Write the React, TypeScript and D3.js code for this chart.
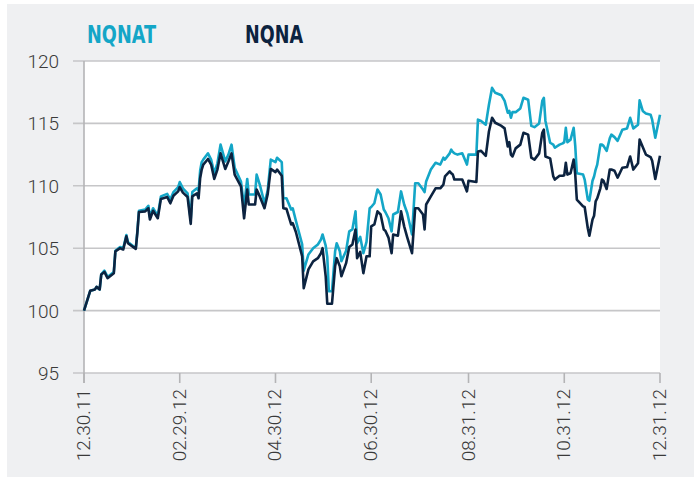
import React from "react";
import * as d3 from "d3";

const dates = [
  "2011-12-30", "2012-01-03", "2012-01-06", "2012-01-07", "2012-01-09", "2012-01-10", "2012-01-12", "2012-01-14",
  "2012-01-18", "2012-01-19", "2012-01-22", "2012-01-24", "2012-01-26", "2012-01-27", "2012-02-01", "2012-02-02",
  "2012-02-03", "2012-02-07", "2012-02-09", "2012-02-10", "2012-02-12", "2012-02-15", "2012-02-17", "2012-02-21",
  "2012-02-23", "2012-02-25", "2012-02-28", "2012-02-29", "2012-03-02", "2012-03-05", "2012-03-07", "2012-03-08",
  "2012-03-11", "2012-03-12", "2012-03-13", "2012-03-14", "2012-03-15", "2012-03-18", "2012-03-20", "2012-03-22",
  "2012-03-24", "2012-03-26", "2012-03-29", "2012-03-31", "2012-04-02", "2012-04-04", "2012-04-08", "2012-04-10",
  "2012-04-12", "2012-04-13", "2012-04-17", "2012-04-18", "2012-04-20", "2012-04-23", "2012-04-25", "2012-04-27",
  "2012-04-30", "2012-05-01", "2012-05-04", "2012-05-05", "2012-05-07", "2012-05-10", "2012-05-11", "2012-05-13",
  "2012-05-17", "2012-05-18", "2012-05-21", "2012-05-24", "2012-05-27", "2012-05-29", "2012-05-30", "2012-06-01",
  "2012-06-02", "2012-06-03", "2012-06-05", "2012-06-07", "2012-06-08", "2012-06-10", "2012-06-11", "2012-06-14",
  "2012-06-16", "2012-06-18", "2012-06-20", "2012-06-21", "2012-06-23", "2012-06-25", "2012-06-27", "2012-06-29",
  "2012-06-30", "2012-07-02", "2012-07-04", "2012-07-06", "2012-07-08", "2012-07-09", "2012-07-11", "2012-07-13",
  "2012-07-14", "2012-07-17", "2012-07-19", "2012-07-21", "2012-07-23", "2012-07-26", "2012-07-28", "2012-07-30",
  "2012-08-02", "2012-08-03", "2012-08-04", "2012-08-07", "2012-08-10", "2012-08-13", "2012-08-15", "2012-08-16",
  "2012-08-19", "2012-08-20", "2012-08-21", "2012-08-22", "2012-08-24", "2012-08-27", "2012-08-30", "2012-08-31",
  "2012-09-05", "2012-09-06", "2012-09-08", "2012-09-11", "2012-09-13", "2012-09-15", "2012-09-17", "2012-09-21",
  "2012-09-23", "2012-09-25", "2012-09-26", "2012-09-27", "2012-09-28", "2012-09-30", "2012-10-02", "2012-10-03",
  "2012-10-05", "2012-10-08", "2012-10-10", "2012-10-12", "2012-10-15", "2012-10-17", "2012-10-18", "2012-10-19",
  "2012-10-22", "2012-10-24", "2012-10-25", "2012-10-28", "2012-10-30", "2012-10-31", "2012-11-01", "2012-11-02",
  "2012-11-04", "2012-11-06", "2012-11-07", "2012-11-08", "2012-11-12", "2012-11-13", "2012-11-15", "2012-11-16",
  "2012-11-18", "2012-11-19", "2012-11-20", "2012-11-21", "2012-11-23", "2012-11-24", "2012-11-25", "2012-11-27",
  "2012-11-29", "2012-11-30", "2012-12-02", "2012-12-04", "2012-12-07", "2012-12-10", "2012-12-12", "2012-12-14",
  "2012-12-17", "2012-12-18", "2012-12-20", "2012-12-22", "2012-12-25", "2012-12-26", "2012-12-28", "2012-12-31",
];

// NQNAT (teal)
const nqnat = [
  100, 101.6, 101.7, 101.9, 101.7, 102.9, 103.2, 102.7,
  103.1, 104.8, 105.1, 105.0, 106.05, 105.5, 105.0, 106.35,
  108.0, 108.1, 108.4, 107.5, 108.2, 107.6, 109.15, 109.35,
  108.9, 109.5, 109.9, 110.3, 109.8, 109.4, 107.3, 109.5,
  109.8, 109.6, 111.2, 111.9, 112.1, 112.6, 112.1, 111.0,
  111.8, 113.3, 111.95, 112.5, 113.3, 111.45, 110.35, 108.3,
  110.55, 109.3, 109.3, 110.9, 110.1, 108.6, 109.6, 112.1,
  111.9, 112.25, 111.9, 109.0, 109.0, 108.1, 108.2, 107.2,
  105.3, 103.2, 104.5, 105.0, 105.3, 105.7, 106.1, 105.2,
  104.3, 101.55, 101.55, 104.75, 105.4, 104.75, 103.95, 104.8,
  106.35, 106.5, 107.95, 105.4, 105.9, 104.6, 105.5, 108.2,
  108.3, 108.6, 109.7, 109.3, 108.1, 107.9, 107.4, 106.35,
  107.7, 107.9, 109.55, 108.5, 107.8, 106.1, 110.2, 110.2,
  109.7, 109.5, 110.35, 111.3, 111.85, 111.7, 112.25, 112.1,
  112.6, 112.9, 112.7, 112.6, 112.5, 112.6, 111.7, 112.5,
  112.5, 115.3, 115.2, 114.9, 116.5, 117.85, 117.45, 117.25,
  116.8, 115.85, 116.0, 115.45, 115.9, 115.9, 116.1, 116.2,
  117.05, 116.9, 114.8, 114.7, 115.0, 116.8, 117.05, 115.2,
  113.45, 113.3, 113.05, 113.3, 113.4, 113.5, 114.65, 113.5,
  113.7, 114.65, 113.2, 111.0, 110.9, 110.5, 108.9, 108.8,
  110.4, 110.75, 111.3, 111.7, 113.3, 113.3, 113.2, 112.8,
  113.8, 114.1, 113.9, 113.6, 114.5, 114.6, 115.45, 114.6,
  114.9, 116.85, 116.0, 115.8, 115.7, 115.3, 113.85, 115.7,
];

// NQNA (dark)
const nqna = [
  100, 101.6, 101.7, 101.9, 101.7, 102.9, 103.1, 102.6,
  103.0, 104.75, 105.0, 104.9, 105.95, 105.4, 104.95, 106.25,
  107.9, 107.95, 108.2, 107.3, 108.0, 107.4, 108.95, 109.1,
  108.6, 109.2, 109.55, 109.9, 109.45, 109.1, 106.95, 109.15,
  109.4, 109.0, 110.6, 111.3, 111.7, 112.15, 111.7, 110.55,
  111.3, 112.6, 111.35, 111.95, 112.6, 110.9, 109.95, 107.4,
  109.7, 108.5, 108.5, 109.7, 109.15, 108.2, 109.3, 111.35,
  111.1, 111.3, 110.8, 108.2, 108.15, 106.9, 107.0, 106.3,
  104.35, 101.8, 103.3, 103.95, 104.2, 104.6, 105.0, 102.75,
  100.55, 100.55, 100.55, 103.55, 104.2, 103.55, 102.75, 103.8,
  105.1, 105.3, 106.5, 104.2, 104.7, 103.0, 104.35, 104.35,
  106.75, 106.9, 107.95, 107.7, 106.5, 106.4, 105.85, 104.6,
  106.1, 106.0, 107.95, 106.75, 105.85, 104.6, 108.2, 108.2,
  107.7, 106.5, 108.5, 109.15, 109.8, 109.8, 110.1, 110.75,
  111.15, 111.0, 110.9, 110.5, 110.5, 110.5, 109.55, 110.4,
  110.3, 112.75, 112.8, 112.4, 114.35, 115.45, 115.05, 114.8,
  114.6, 113.15, 113.5, 112.5, 112.35, 113.0, 113.2, 113.3,
  114.25, 114.1, 112.25, 112.1, 112.6, 114.25, 114.5, 112.35,
  112.2, 110.75, 110.5, 110.8, 110.8, 110.85, 111.85, 110.9,
  111.0, 112.1, 110.9, 108.9, 108.35, 108.3, 106.6, 106.0,
  107.3, 107.6, 108.75, 109.0, 109.8, 110.5, 110.4, 109.75,
  111.3, 111.3, 111.2, 110.65, 111.45, 111.5, 112.35, 111.3,
  111.8, 113.7, 113.1, 112.5, 112.3, 112.0, 110.55, 112.4,
];

const xTicks = ["2011-12-30", "2012-02-29", "2012-04-30", "2012-06-30", "2012-08-31", "2012-10-31", "2012-12-31"];
const yTicks = [95, 100, 105, 110, 115, 120];

const TEAL = "#14a6c7";
const NAVY = "#0c2340";
const GRID = "#c6c6c8";

export default function App() {
  const W = 694;
  const H = 477;
  const left = 84, right = 660, top = 61, bottom = 373;

  const parse = d3.timeParse("%Y-%m-%d");
  const fmt = d3.timeFormat("%m.%d.%y");
  const x = d3.scaleTime()
    .domain([parse(xTicks[0])!, parse(xTicks[xTicks.length - 1])!])
    .range([left, right]);
  const y = d3.scaleLinear().domain([95, 120]).range([bottom, top]);

  const pts = dates.map((d) => parse(d)!);
  const line = d3.line<number>()
    .x((_, i) => x(pts[i]))
    .y((v) => y(v));

  const labelFont = "Roboto, 'Liberation Sans', sans-serif";
  const legendFont = "'Liberation Sans Narrow', 'DejaVu Sans Condensed', 'Liberation Sans', sans-serif";

  return (
    <svg width={W} height={H} style={{ position: "absolute", left: 0, top: 0 }}>
      <rect x={0} y={0} width={W} height={H} fill="#fff" />
      <rect x={7} y={4} width={W - 7} height={H - 4} fill="#eff0f2" />
      <rect x={left} y={top} width={right - left} height={bottom - top} fill="#fff" />

      {/* legend */}
      <text x={87} y={43} fill={TEAL} fontFamily={legendFont} fontWeight="bold" fontSize={24}
        textLength={69} lengthAdjust="spacingAndGlyphs">NQNAT</text>
      <text x={245} y={43} fill={NAVY} fontFamily={legendFont} fontWeight="bold" fontSize={24}
        textLength={58} lengthAdjust="spacingAndGlyphs">NQNA</text>

      {/* gridlines + y labels */}
      {yTicks.map((t) => (
        <g key={t}>
          <line x1={73} x2={right} y1={y(t)} y2={y(t)} stroke={GRID} strokeWidth={1.6} />
          <text x={59} y={y(t) + 7} textAnchor="end" fontFamily={labelFont} fontWeight={300}
            fontSize={19} fill="#3a3a3a">{t}</text>
        </g>
      ))}

      {/* y axis line */}
      <line x1={left} x2={left} y1={top} y2={bottom + 10} stroke="#b4b4b6" strokeWidth={1.6} />

      {/* x ticks + labels */}
      {xTicks.map((t) => {
        const px = x(parse(t)!);
        return (
          <g key={t}>
            <line x1={px} x2={px} y1={bottom} y2={bottom + 10} stroke="#b4b4b6" strokeWidth={1.6} />
            <text transform={`translate(${px},${bottom + 16}) rotate(-90)`} y={6} textAnchor="end"
              fontFamily={labelFont} fontWeight={300} fontSize={19} fill="#3a3a3a">
              {fmt(parse(t)!)}
            </text>
          </g>
        );
      })}

      <path d={line(nqnat) ?? ""} fill="none" stroke={TEAL} strokeWidth={2.6} strokeLinejoin="round" />
      <path d={line(nqna) ?? ""} fill="none" stroke={NAVY} strokeWidth={2.6} strokeLinejoin="round" />
    </svg>
  );
}
